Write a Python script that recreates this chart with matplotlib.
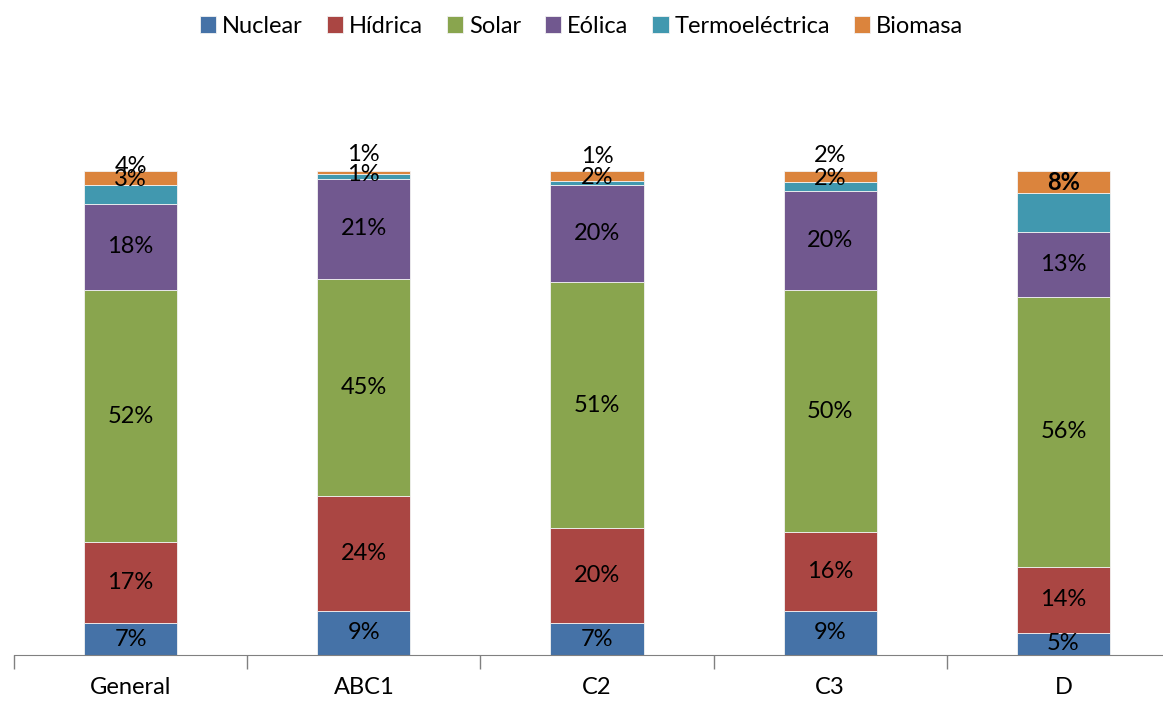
import matplotlib.pyplot as plt
import numpy as np

plt.rcParams['font.family'] = ['Lato', 'DejaVu Sans']

categories = ['General', 'ABC1', 'C2', 'C3', 'D']
series = ['Nuclear', 'Hídrica', 'Solar', 'Eólica', 'Termoeléctrica', 'Biomasa']
colors = ['#4572A7', '#AA4643', '#89A54E', '#71588F', '#4198AF', '#DB843D']

# percentages per category, bottom to top
nuclear = [6.6, 9.1, 6.6, 9.1, 4.6]
hidrica = [16.7, 23.8, 19.6, 16.3, 13.6]
solar = [52.1, 44.8, 50.8, 50.0, 55.8]
eolica = [17.8, 20.7, 20.2, 20.4, 13.4]
termo = [3.9, 0.9, 0.8, 1.9, 8.0]
biomasa = [2.9, 0.7, 1.9, 2.3, 4.6]

values = [nuclear, hidrica, solar, eolica, termo, biomasa]

fig = plt.figure(figsize=(11.63, 7.02), dpi=100)
ax = fig.add_axes([14 / 1163, 47 / 702, 1166 / 1163, 484 / 702])

x = np.arange(len(categories))
bottom = np.zeros(len(categories))
for name, vals, col in zip(series, values, colors):
    vals = np.array(vals)
    ax.bar(x, vals, 0.40, bottom=bottom, color=col, edgecolor='#f2f2f2',
           linewidth=0.6, label=name)
    for i in range(len(x)):
        lab = '%d%%' % round(vals[i])
        mid = bottom[i] + vals[i] / 2
        if name == 'Termoeléctrica':
            # labels pushed above the bar in the original
            ypos = [101.0, 103.5, 102.9, 103.3, 97.7][i]
            w = 'bold' if i == 4 else 'normal'
            ax.text(x[i], ypos, lab, ha='center', va='center', fontsize=17,
                    fontweight=w, clip_on=False)
        elif name == 'Biomasa':
            if i == 4:
                continue
            ax.text(x[i], mid - 0.3, lab, ha='center', va='center', fontsize=17,
                    clip_on=False)
        else:
            ax.text(x[i], mid, lab, ha='center', va='center', fontsize=17)
    bottom += vals

ax.set_xlim(-0.5, 4.5)
ax.set_ylim(0, 100)
for s in ['top', 'right', 'left']:
    ax.spines[s].set_visible(False)
ax.spines['bottom'].set_color('#808080')
ax.set_yticks([])
ax.set_xticks(x)
ax.set_xticklabels(categories, fontsize=17)
ax.tick_params(axis='x', which='major', length=0, pad=16)
ax.set_xticks(np.arange(-0.5, 5, 1), minor=True)
ax.tick_params(axis='x', which='minor', length=10, color='#808080', width=1)

fig.legend(loc='upper center', bbox_to_anchor=(0.5, 1.008), ncol=6, frameon=False,
           fontsize=17, handlelength=0.7, handleheight=0.7, handletextpad=0.25,
           columnspacing=1.0)

plt.savefig('out.png', dpi=100)
